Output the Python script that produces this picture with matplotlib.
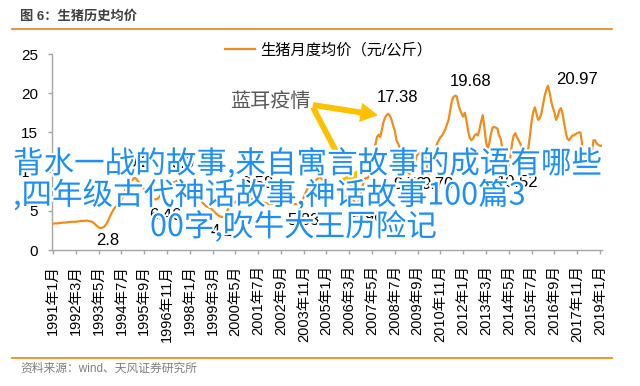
import matplotlib
matplotlib.use('Agg')
import matplotlib.pyplot as plt
import matplotlib.patheffects as pe
from matplotlib.lines import Line2D

plt.rcParams['font.family'] = ['Liberation Sans', 'Noto Sans CJK SC']

# ---------------- data (monthly, 1991-01 .. 2019-02), 元/公斤 ----------------
price = [
    3.35, 3.4, 3.4, 3.4, 3.45, 3.45, 3.5, 3.5, 3.5, 3.55, 3.55, 3.6,        # 1991
    3.6, 3.6, 3.6, 3.65, 3.65, 3.7, 3.7, 3.7, 3.75, 3.75, 3.7, 3.65,        # 1992
    3.6, 3.45, 3.25, 3.05, 2.9, 2.8, 2.85, 2.9, 3.1, 3.4, 3.8, 4.3,         # 1993
    4.7, 5.1, 5.4, 5.6, 5.7, 5.9, 6.3, 6.8, 7.4, 8.0, 8.4, 8.6,             # 1994
    8.8, 9.0, 9.2, 9.1, 8.8, 8.5, 8.3, 8.0, 7.7, 7.4, 7.1, 6.9,             # 1995
    6.8, 6.6, 6.5, 6.46, 6.5, 6.7, 7.0, 7.3, 7.6, 7.8, 8.0, 8.2,            # 1996
    8.4, 8.5, 8.6, 8.7, 8.8, 8.9, 8.8, 8.6, 8.3, 8.0, 7.6, 7.3,             # 1997
    7.0, 6.9, 6.8, 6.9, 7.0, 6.8, 6.6, 6.3, 6.0, 5.8, 5.6, 5.5,             # 1998
    5.4, 5.3, 5.1, 4.9, 4.7, 4.5, 4.35, 4.25, 4.2, 4.3, 4.6, 5.0,           # 1999
    5.4, 5.7, 5.9, 6.0, 6.1, 6.2, 6.3, 6.2, 6.1, 6.2, 6.3, 6.3,             # 2000
    6.3, 6.4, 6.45, 6.5, 6.58, 6.5, 6.4, 6.3, 6.2, 6.1, 6.0, 5.95,          # 2001
    5.9, 5.9, 5.85, 5.9, 5.95, 6.0, 6.0, 5.95, 5.9, 6.0, 6.1, 6.1,          # 2002
    6.1, 6.0, 5.95, 5.9, 5.85, 5.85, 5.83, 5.9, 6.0, 6.3, 6.7, 7.2,         # 2003
    7.7, 8.1, 8.4, 8.5, 8.6, 8.8, 9.0, 9.2, 9.3, 9.1, 8.9, 9.0,             # 2004
    8.9, 8.7, 8.6, 8.4, 8.2, 8.0, 7.8, 7.6, 7.3, 7.0, 6.8, 6.7,             # 2005
    6.8, 6.7, 6.6, 6.5, 6.4, 6.2, 6.05, 5.96, 6.3, 7.1, 8.0, 8.9,           # 2006
    9.2, 9.1, 9.4, 10.2, 11.0, 12.2, 13.4, 14.4, 14.7, 14.4, 15.3, 16.3,    # 2007
    16.9, 17.2, 17.38, 17.1, 16.6, 15.8, 15.2, 14.0, 13.6, 13.0, 12.0, 11.3,  # 2008
    10.9, 10.3, 9.9, 9.72, 9.8, 10.0, 10.8, 11.8, 12.2, 12.4, 12.3, 12.6,   # 2009
    12.4, 11.6, 10.6, 9.70, 9.9, 10.6, 11.8, 12.8, 13.6, 14.0, 14.4, 14.6,  # 2010
    15.0, 15.4, 16.0, 16.6, 17.8, 19.0, 19.5, 19.68, 19.6, 18.6, 17.9, 17.4,  # 2011
    17.0, 17.5, 16.5, 15.2, 14.3, 14.0, 14.2, 14.6, 14.8, 14.6, 15.4, 16.4,  # 2012
    17.2, 15.6, 13.8, 12.8, 13.6, 14.8, 15.6, 15.7, 15.6, 15.5, 14.6, 14.2,  # 2013
    13.0, 11.9, 11.2, 10.52, 10.8, 11.9, 13.6, 14.6, 14.9, 14.4, 14.0, 13.6,  # 2014
    13.0, 12.4, 11.9, 12.0, 13.0, 14.6, 16.4, 17.6, 18.2, 17.4, 16.6, 16.8,  # 2015
    17.4, 18.5, 19.6, 20.4, 20.97, 20.2, 19.0, 18.2, 17.6, 16.6, 17.0, 17.8,  # 2016
    18.1, 17.4, 16.2, 15.0, 14.2, 14.0, 14.3, 14.6, 14.6, 14.8, 14.9, 15.0,  # 2017
    15.0, 13.6, 11.6, 10.7, 10.5, 10.6, 10.8, 12.4, 14.0, 14.0, 13.6, 13.4,  # 2018
    13.3, 13.3,                                                              # 2019
]

tick_labels = ['1991年1月', '1992年3月', '1993年5月', '1994年7月', '1995年9月',
               '1996年11月', '1998年1月', '1999年3月', '2000年5月', '2001年7月',
               '2002年9月', '2003年11月', '2005年1月', '2006年3月', '2007年5月',
               '2008年7月', '2009年9月', '2010年11月', '2012年1月', '2013年3月',
               '2014年5月', '2015年7月', '2016年9月', '2017年11月', '2019年1月']
tick_step = 14
yticks = [0, 5, 10, 15, 20, 25]

# labelled points: month index and text
label_index = [29, 50, 77, 63, 104, 124, 150, 187, 219, 231, 279, 206, 247, 304]
label_text = ['2.8', '9.2', '8.9', '6.46', '4.2', '6.58', '5.83', '5.96',
              '9.72', '9.70', '10.52', '17.38', '19.68', '20.97']
# label offsets in pixels (dx, dy)
label_offset = [(7, -12), (4, 15), (4, 17), (10, -16), (0, -14), (2, 15), (6, -16),
                (10, -14), (0, -11), (8, -11), (10, -15), (9, 16), (15, 14), (29, 6)]

legend_label = '生猪月度均价（元/公斤）'
title = '图 6：生猪历史均价'
source = '资料来源：wind、天风证券研究所'
overlay_lines = ['背水一战的故事,来自寓言故事的成语有哪些',
                 ',四年级古代神话故事,神话故事100篇3',
                 '00字,吹牛大王历险记']

# ---------------- figure ----------------
W, H = 640, 386
fig = plt.figure(figsize=(W / 100, H / 100), dpi=100)
fig.patch.set_facecolor('white')

def fx(px):
    return px / W

def fy(py):
    return 1 - py / H

ax = fig.add_axes([fx(52.2), fy(250), fx(602.4) - fx(52.2), fy(54) - fy(250)])
x = list(range(len(price)))
line, = ax.plot(x, price, color='#F28C1A', lw=1.6, label=legend_label, zorder=3)

ax.set_xlim(-0.5, len(price) - 0.5)
ax.set_ylim(0, 25)
ax.set_yticks(yticks)
ax.set_yticklabels([str(v) for v in yticks])
ax.set_xticks([i * tick_step for i in range(len(tick_labels))])
ax.set_xticklabels(tick_labels, rotation=90, fontsize=10.5)

for s in ['top', 'right']:
    ax.spines[s].set_visible(False)
for s in ['left', 'bottom']:
    ax.spines[s].set_color('#A6A6A6')
    ax.spines[s].set_linewidth(1.0)
ax.tick_params(axis='y', direction='out', length=3, width=1, color='#A6A6A6',
               labelsize=11, pad=7, labelcolor='black')
ax.tick_params(axis='x', direction='out', length=3, width=1, color='#A6A6A6',
               pad=8, labelcolor='black')

for idx, txt, (dx, dy) in zip(label_index, label_text, label_offset):
    ax.annotate(txt, xy=(idx, price[idx]), xytext=(dx * 0.72, dy * 0.72),
                textcoords='offset points', ha='center', va='center',
                fontsize=12, color='black', zorder=4)

# 蓝耳疫情 annotation with two arrows
ax.text(133.3, 18.9, '蓝耳疫情', ha='center', va='center', fontsize=14.5,
        color='#595959', zorder=4)
arrow_kw = dict(arrowstyle='simple,head_length=0.9,head_width=1.0,tail_width=0.3',
                color='#FFC000', lw=0, shrinkA=0, shrinkB=0, mutation_scale=14)
ax.annotate('', xy=(199.6, 17.2), xytext=(159.7, 18.5),
            arrowprops=arrow_kw, zorder=5)
ax.annotate('', xy=(186.5, 7.6), xytext=(159.7, 18.2),
            arrowprops=arrow_kw, zorder=5)

# legend
leg = fig.legend(handles=[line], labels=[legend_label], loc='center left',
                 bbox_to_anchor=(fx(225), fy(50)), frameon=False, fontsize=11,
                 handlelength=1.95, handletextpad=0.35, borderpad=0,
                 borderaxespad=0)

# title, rules, source
fig.text(fx(20), fy(16), title, ha='left', va='center', fontsize=9.5,
         fontweight='bold', color='#404040')
fig.add_artist(Line2D([fx(12), fx(612)], [fy(29), fy(29)], color='#E98A2F', lw=1.3))
fig.add_artist(Line2D([fx(12), fx(612)], [fy(358), fy(358)], color='#F28C1A', lw=1.3))
fig.text(fx(20), fy(369), source, ha='left', va='center', fontsize=8.5,
         color='#7F7F7F')

# overlay text
overlay_pos = [(13, 173), (13, 204.5), (150, 236)]
for txt, (px, py) in zip(overlay_lines, overlay_pos):
    fig.text(fx(px), fy(py), txt, ha='left', va='baseline', fontsize=22,
             family=['Noto Sans CJK SC', 'DejaVu Sans'], color='#1E8FF5',
             zorder=10,
             path_effects=[pe.withStroke(linewidth=3, foreground='white')])

fig.savefig('out.png', dpi=100)
